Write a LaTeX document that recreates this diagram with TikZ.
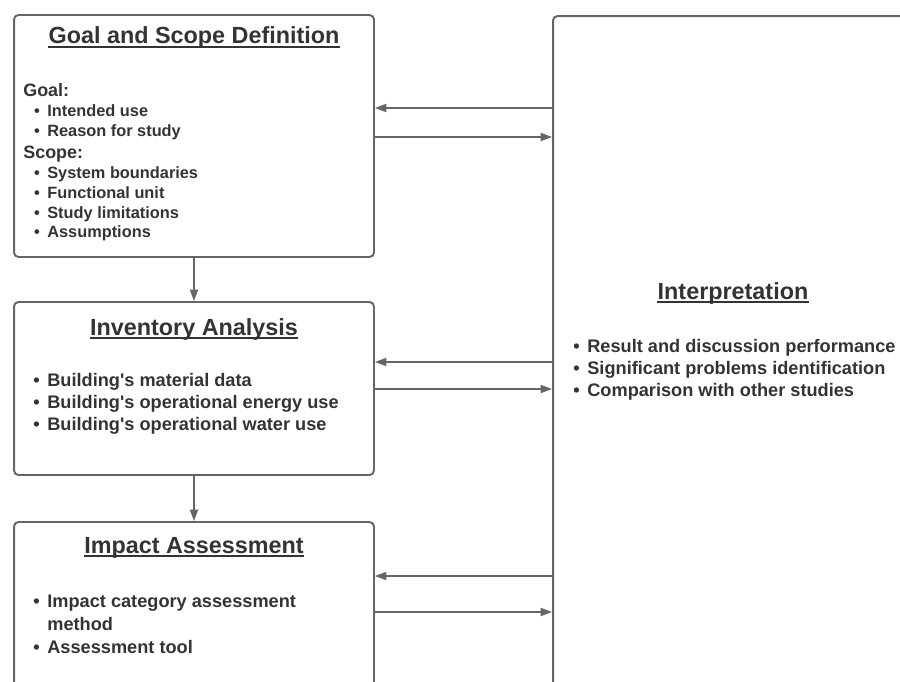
\documentclass[tikz,border=0pt]{standalone}
\usepackage{fontspec}
\setmainfont{Liberation Sans}
\usetikzlibrary{arrows.meta,positioning}

\definecolor{linegray}{HTML}{666666}
\definecolor{txtgray}{HTML}{333333}

\tikzset{
  box/.style={draw=linegray, line width=1.1pt, rounded corners=2.5pt, minimum width=7.2cm, inner sep=0pt},
  ttl/.style={anchor=base, inner sep=0pt, text=txtgray, font=\fontsize{13.3}{16}\selectfont\bfseries},
  txt/.style={anchor=base west, inner sep=0pt, text=txtgray, font=\fontsize{10.35}{12}\selectfont\bfseries},
  small/.style={txt, font=\fontsize{9.3}{11}\selectfont\bfseries},
  flow/.style={draw=linegray, line width=0.9pt, -{Triangle[length=6.5pt,width=4.6pt]}},
  uline/.style={draw=txtgray, line width=1.1pt},
}
\newcommand{\bul}{\llap{\textbullet\hspace{4.3pt}}}

\begin{document}
\begin{tikzpicture}[x=0.02cm, y=-0.02cm]

\useasboundingbox (0,0) rectangle (900,681);
\clip (0,0) rectangle (900,681);

% boxes
\node[box, minimum height=4.84cm] (goal) at (194,136) {};
\node[box, minimum height=3.46cm] (inv) at (194,388.5) {};
\node[box, minimum height=3.46cm] (imp) at (194,608.5) {};
\node[box, minimum height=14cm] (interp) at (733,366) {};

% titles
\node[ttl] (gtitle) at (194,43.5) {Goal and Scope Definition};
\node[ttl] (ititle) at (194,335) {Inventory Analysis};
\node[ttl] (mtitle) at (194,553) {Impact Assessment};
\node[ttl] (ptitle) at (733,299) {Interpretation};
\foreach \n in {gtitle,ititle,mtitle,ptitle}
  \draw[uline] ([yshift=-1.9pt]\n.base west) -- ([yshift=-1.9pt]\n.base east);

% goal and scope
\node[small, font=\fontsize{10.2}{12}\selectfont\bfseries] (ghead) at (23,96.5) {Goal:};
\foreach \y/\t [count=\i] in {116.5/Intended use, 136.5/Reason for study}
  \node[small] (g\i) at (47,\y) {\bul\t};
\node[small, font=\fontsize{10.2}{12}\selectfont\bfseries] (shead) at (23,158) {Scope:};
\foreach \y/\t [count=\i] in {178/System boundaries, 198/Functional unit, 218/Study limitations, 237.5/Assumptions}
  \node[small] (s\i) at (47,\y) {\bul\t};

% inventory
\foreach \y/\t [count=\i] in {386/Building\textquotesingle s material data, 408/Building\textquotesingle s operational energy use, 430/Building\textquotesingle s operational water use}
  \node[txt] (i\i) at (47,\y) {\bul\t};

% impact
\node[txt] (m1) at (47,607) {\bul Impact category assessment};
\node[txt] (m2) at (47,630) {method};
\node[txt] (m3) at (47,653.5) {\bul Assessment tool};

% interpretation
\foreach \y/\t [count=\i] in {352/Result and discussion performance, 374/Significant problems identification, 396/Comparison with other studies}
  \node[txt] (p\i) at (587,\y) {\bul\t};

% flows
\draw[flow] (goal) -- (inv);
\draw[flow] (inv) -- (imp);
\draw[flow] ([yshift=0.56cm]interp.west |- goal.east) -- ([yshift=0.56cm]goal.east);
\draw[flow] ([yshift=-0.02cm]goal.east) -- ([yshift=-0.02cm]interp.west |- goal.east);
\draw[flow] ([yshift=0.53cm]interp.west |- inv.east) -- ([yshift=0.53cm]inv.east);
\draw[flow] ([yshift=-0.01cm]inv.east) -- ([yshift=-0.01cm]interp.west |- inv.east);
\draw[flow] ([yshift=0.65cm]interp.west |- imp.east) -- ([yshift=0.65cm]imp.east);
\draw[flow] ([yshift=-0.07cm]imp.east) -- ([yshift=-0.07cm]interp.west |- imp.east);

\end{tikzpicture}
\end{document}
